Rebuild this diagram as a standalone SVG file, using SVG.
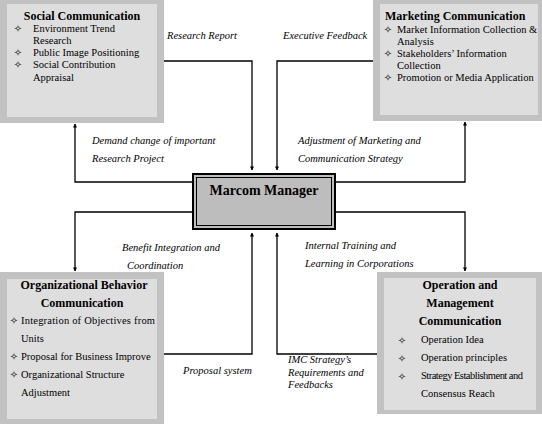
<svg xmlns="http://www.w3.org/2000/svg" width="542" height="424" viewBox="0 0 542 424">
<defs>
<style>
.outer{fill:#c2c2c2;}
.inner{fill:#dedede;}
.title{font-family:"Liberation Serif",serif;font-weight:bold;font-size:12px;fill:#000;}
.item{font-family:"Liberation Serif",serif;font-size:10.5px;fill:#000;}
.bul{font-family:"DejaVu Sans",sans-serif;font-size:10px;fill:#000;text-anchor:middle;}
.lbl{font-family:"Liberation Serif",serif;font-style:italic;font-size:10.5px;fill:#000;}
.conn{fill:none;stroke:#000;stroke-width:1.3;marker-end:url(#ah);}
</style>
<marker id="ah" viewBox="0 0 10 10" refX="9" refY="5" markerWidth="4" markerHeight="6" orient="auto" markerUnits="userSpaceOnUse">
<path d="M0,0 L10,5 L0,10 z" fill="#000"/>
</marker>
</defs>
<rect width="542" height="424" fill="#fff"/>

<g id="social">
<rect class="outer" x="0" y="0" width="164" height="123"/>
<rect class="inner" x="7" y="4" width="150" height="113"/>
<text class="title" x="82" y="20" text-anchor="middle">Social Communication</text>
<text class="bul" x="18" y="32">✧</text>
<text class="item" x="33" y="32">Environment Trend</text>
<text class="item" x="33" y="44">Research</text>
<text class="bul" x="18" y="56">✧</text>
<text class="item" x="33" y="56">Public Image Positioning</text>
<text class="bul" x="18" y="68">✧</text>
<text class="item" x="33" y="68">Social Contribution</text>
<text class="item" x="33" y="81">Appraisal</text>
</g>

<g id="marketing">
<rect class="outer" x="373" y="0" width="169" height="121"/>
<rect class="inner" x="380" y="4" width="158" height="111"/>
<text class="title" x="385" y="20">Marketing Communication</text>
<text class="bul" x="388" y="33">✧</text>
<text class="item" x="397" y="33">Market Information Collection &amp;</text>
<text class="item" x="397" y="45">Analysis</text>
<text class="bul" x="388" y="57">✧</text>
<text class="item" x="397" y="57">Stakeholders’ Information</text>
<text class="item" x="397" y="69">Collection</text>
<text class="bul" x="388" y="81">✧</text>
<text class="item" x="397" y="81">Promotion or Media Application</text>
</g>

<g id="manager">
<rect x="193" y="174" width="142" height="55" fill="#bdbdbd" stroke="#000" stroke-width="2"/>
<rect x="196.5" y="177.5" width="135" height="48" fill="none" stroke="#000" stroke-width="1"/>
<text x="264" y="195" text-anchor="middle" font-family="'Liberation Serif',serif" font-weight="bold" font-size="14">Marcom Manager</text>
</g>

<g id="org">
<rect class="outer" x="0" y="272" width="164" height="152"/>
<rect class="inner" x="7" y="279" width="150" height="140"/>
<text class="title" x="84" y="289" text-anchor="middle">Organizational Behavior</text>
<text class="title" x="82" y="307" text-anchor="middle">Communication</text>
<text class="bul" x="14" y="324">✧</text>
<text class="item" x="21" y="324" textLength="134" lengthAdjust="spacing">Integration of Objectives from</text>
<text class="item" x="21" y="342">Units</text>
<text class="bul" x="14" y="360">✧</text>
<text class="item" x="21" y="360">Proposal for Business Improve</text>
<text class="bul" x="14" y="378">✧</text>
<text class="item" x="21" y="378">Organizational Structure</text>
<text class="item" x="21" y="396">Adjustment</text>
</g>

<g id="operation">
<rect class="outer" x="377" y="272" width="165" height="142"/>
<rect class="inner" x="384" y="278" width="152" height="132"/>
<text class="title" x="460" y="289" text-anchor="middle">Operation and</text>
<text class="title" x="460" y="307" text-anchor="middle">Management</text>
<text class="title" x="460" y="325" text-anchor="middle">Communication</text>
<text class="bul" x="402" y="344">✧</text>
<text class="item" x="421" y="343">Operation Idea</text>
<text class="bul" x="402" y="362">✧</text>
<text class="item" x="421" y="361">Operation principles</text>
<text class="bul" x="402" y="380">✧</text>
<text class="item" x="421" y="379" textLength="102" lengthAdjust="spacing">Strategy Establishment and</text>
<text class="item" x="421" y="397">Consensus Reach</text>
</g>

<g id="connectors">
<polyline class="conn" points="164,61 252,61 252,170"/>
<polyline class="conn" points="373,61 277,61 277,170"/>
<polyline class="conn" points="193,182 75,182 75,124"/>
<polyline class="conn" points="335,182 465,182 465,122"/>
<polyline class="conn" points="193,212 75,212 75,271"/>
<polyline class="conn" points="335,212 465,212 465,271"/>
<polyline class="conn" points="164,354 252,354 252,233"/>
<polyline class="conn" points="377,354 277,354 277,233"/>
</g>

<g id="labels">
<text class="lbl" x="167" y="39">Research Report</text>
<text class="lbl" x="283" y="39">Executive Feedback</text>
<text class="lbl" x="92" y="144">Demand change of important</text>
<text class="lbl" x="92" y="162">Research Project</text>
<text class="lbl" x="298" y="144">Adjustment of Marketing and</text>
<text class="lbl" x="298" y="162">Communication Strategy</text>
<text class="lbl" x="122" y="251">Benefit Integration and</text>
<text class="lbl" x="127" y="269">Coordination</text>
<text class="lbl" x="305" y="249">Internal Training and</text>
<text class="lbl" x="305" y="267">Learning in Corporations</text>
<text class="lbl" x="183" y="374">Proposal system</text>
<text class="lbl" x="288" y="363">IMC Strategy’s</text>
<text class="lbl" x="288" y="376">Requirements and</text>
<text class="lbl" x="288" y="388">Feedbacks</text>
</g>
</svg>
